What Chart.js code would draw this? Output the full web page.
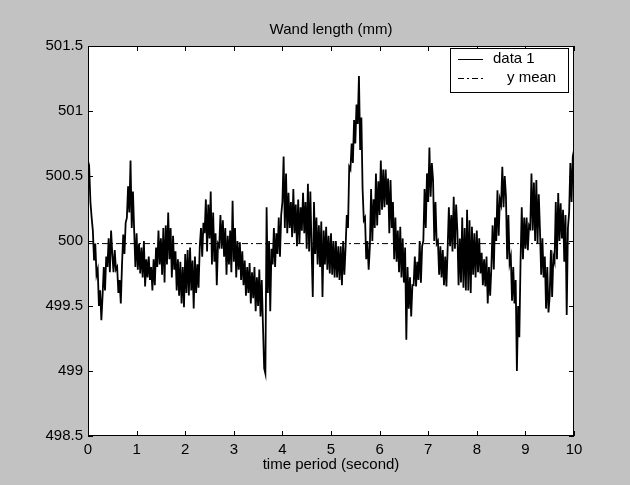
<!DOCTYPE html>
<html>
<head>
<meta charset="utf-8">
<script src="https://cdn.jsdelivr.net/npm/chart.js@4/dist/chart.umd.min.js"></script>
<style>
  html, body { margin: 0; padding: 0; background: #c2c2c2; }
  #wrap { width: 630px; height: 485px; }
</style>
</head>
<body>
<div id="wrap"><canvas id="wandChart" width="630" height="485"></canvas></div>
<script>
// Wand length samples (mm), one value every sampleStep seconds
const sampleStep = 0.025;
const wandLength = [
  // 0 - 1 s
  500.52, 500.56, 500.30, 500.18,  500.08, 499.85, 499.98, 499.74,  499.78, 499.50, 499.62, 499.39,
  499.58, 499.80, 499.62, 499.88,  499.80, 500.02, 499.76, 500.08,  499.90, 499.76, 499.93, 499.78,
  499.80, 499.60, 499.70, 499.52,  499.82, 500.05, 499.90, 500.14,  500.18, 500.42, 500.22, 500.62,
  500.10, 500.38, 500.08, 499.80,
  // 1 - 2 s
  500.06, 499.78, 499.98, 499.75,  499.95, 499.72, 500.00, 499.65,  499.86, 499.72, 499.88, 499.70,
  499.80, 499.62, 499.86, 499.66,  499.95, 499.80, 500.08, 499.82,  500.02, 499.74, 500.10, 499.68,
  500.12, 499.82, 500.22, 499.86,  500.10, 499.72, 500.04, 499.78,  499.92, 499.62, 499.86, 499.58,
  499.84, 499.52, 499.80, 499.49,
  // 2 - 3 s
  499.90, 499.60, 499.93, 499.58,  499.95, 499.62, 499.85, 499.48,  499.88, 499.60, 499.82, 499.64,
  499.96, 500.10, 499.88, 500.14,  500.06, 500.32, 499.92, 500.28,  500.02, 500.38, 499.82, 500.22,
  499.84, 500.06, 499.66, 499.98,  499.96, 500.20, 499.94, 500.16,  499.88, 500.10, 499.74, 500.04,
  499.82, 500.08, 499.76, 500.31,
  // 3 - 4 s
  499.84, 500.10, 499.72, 500.00,  499.78, 499.99, 499.70, 499.92,  499.66, 499.85, 499.58, 499.80,
  499.60, 499.83, 499.52, 499.76,  499.56, 499.80, 499.46, 499.72,  499.50, 499.78, 499.42, 499.70,
  499.35, 499.02, 498.98, 500.26,  499.60, 500.00, 499.46, 499.94,  499.82, 500.10, 499.80, 500.06,
  499.90, 500.18, 499.88, 500.20,
  // 4 - 5 s
  500.30, 500.65, 500.10, 500.52,  500.06, 500.37, 500.10, 500.30,  500.03, 500.40, 500.06, 500.28,
  499.96, 500.32, 499.98, 500.26,  500.08, 500.37, 500.06, 500.30,  499.94, 500.44, 499.92, 500.38,
  499.95, 499.57, 500.30, 499.90,  500.18, 499.82, 500.12, 499.80,  500.15, 499.57, 500.08, 499.82,
  500.11, 499.78, 500.04, 499.75,
  // 5 - 6 s
  500.06, 499.74, 500.00, 499.72,  500.00, 499.72, 499.96, 499.70,  499.96, 499.66, 500.00, 499.74,
  499.95, 500.20, 500.10, 500.57,  500.55, 500.75, 500.60, 500.93,  500.75, 501.05, 500.90, 501.27,
  500.70, 500.95, 500.40, 500.16,  500.18, 499.86, 500.00, 499.78,  499.96, 500.40, 500.00, 500.32,
  500.10, 500.52, 500.12, 500.46,
  // 6 - 7 s
  500.20, 500.62, 500.24, 500.55,  500.26, 500.55, 500.28, 500.48,  500.06, 500.47, 500.10, 500.30,
  499.86, 500.18, 499.84, 500.08,  499.76, 500.11, 499.72, 500.02,  499.68, 499.95, 499.24, 499.80,
  499.48, 499.72, 499.42, 499.66,  499.66, 499.88, 499.65, 499.84,  499.70, 500.00, 499.68, 499.96,
  500.00, 500.40, 500.10, 500.52,
  // 7 - 8 s
  500.30, 500.72, 500.34, 500.60,  500.47, 500.00, 500.30, 499.98,  500.00, 499.74, 499.96, 499.72,
  499.93, 499.66, 499.88, 499.65,  499.94, 500.26, 499.96, 500.20,  499.92, 500.34, 499.94, 500.28,
  500.08, 499.66, 500.02, 499.68,  500.18, 499.64, 500.10, 499.62,  500.24, 499.62, 500.16, 499.60,
  500.11, 499.74, 500.06, 499.72,
  // 8 - 9 s
  500.08, 499.76, 500.02, 499.75,  499.91, 499.66, 499.86, 499.65,  499.88, 499.52, 499.80, 499.58,
  499.80, 500.12, 499.78, 500.18,  500.00, 500.39, 500.04, 500.32,  500.28, 500.57, 500.26, 500.50,
  500.34, 499.86, 500.20, 499.83,  499.88, 499.54, 499.80, 499.52,  499.70, 499.00, 499.50, 499.26,
  499.84, 500.26, 499.86, 500.18,
  // 9 - 10 s
  499.94, 500.18, 499.93, 500.12,  500.10, 500.52, 500.08, 500.45,  500.00, 500.47, 499.98, 500.36,
  500.08, 499.74, 500.02, 499.72,  499.88, 499.48, 499.80, 499.45,  499.58, 499.93, 499.57, 499.88,
  499.84, 500.30, 499.86, 500.37,  500.00, 500.29, 500.02, 500.24,  499.84, 500.20, 499.43, 500.10,
  500.22, 500.60, 500.30, 500.65,
  500.70
];
const yMean = 499.98;
const xTicks = [0, 1, 2, 3, 4, 5, 6, 7, 8, 9, 10];
const yTicks = [498.5, 499, 499.5, 500, 500.5, 501, 501.5];

const labelFont = { family: 'Arial, "Liberation Sans", sans-serif', size: 15 };

const dataPoints = wandLength.map((v, i) => ({ x: +(i * sampleStep).toFixed(3), y: v }));
const meanPoints = [{ x: xTicks[0], y: yMean }, { x: xTicks[xTicks.length - 1], y: yMean }];

// grey figure, white axes, box with inward ticks, legend inside the axes
const matlabFrame = {
  id: 'matlabFrame',
  beforeDraw(chart) {
    const { ctx, chartArea: a } = chart;
    ctx.save();
    ctx.fillStyle = '#c2c2c2';
    ctx.fillRect(0, 0, chart.width, chart.height);
    ctx.fillStyle = '#ffffff';
    ctx.fillRect(a.left, a.top, a.right - a.left, a.bottom - a.top);
    ctx.restore();
  },
  afterDatasetsDraw(chart) {
    const { ctx, chartArea: a, scales } = chart;
    ctx.save();
    ctx.strokeStyle = '#000';
    ctx.lineWidth = 1;
    ctx.strokeRect(a.left + 0.5, a.top + 0.5, a.right - a.left - 1, a.bottom - a.top - 1);
    ctx.beginPath();
    const tl = 5;
    xTicks.forEach(v => {
      const px = Math.round(scales.x.getPixelForValue(v)) + 0.5;
      ctx.moveTo(px, a.bottom); ctx.lineTo(px, a.bottom - tl);
      ctx.moveTo(px, a.top); ctx.lineTo(px, a.top + tl);
    });
    yTicks.forEach(v => {
      const py = Math.round(scales.y.getPixelForValue(v)) + 0.5;
      ctx.moveTo(a.left, py); ctx.lineTo(a.left + tl, py);
      ctx.moveTo(a.right, py); ctx.lineTo(a.right - tl, py);
    });
    ctx.stroke();

    // legend box
    const bx = 450, by = 48, bw = 118, bh = 44;
    ctx.fillStyle = '#fff';
    ctx.fillRect(bx, by, bw, bh);
    ctx.strokeRect(bx + 0.5, by + 0.5, bw, bh);
    const ds = chart.data.datasets;
    ctx.font = '15px Arial, "Liberation Sans", sans-serif';
    ctx.fillStyle = '#000';
    ctx.textBaseline = 'middle';
    // row 1
    ctx.beginPath();
    ctx.moveTo(458, 59.5); ctx.lineTo(483, 59.5);
    ctx.stroke();
    ctx.fillText(ds[0].label, 493, 59);
    // row 2
    ctx.setLineDash(ds[1].borderDash);
    ctx.beginPath();
    ctx.moveTo(458, 78.5); ctx.lineTo(483, 78.5);
    ctx.stroke();
    ctx.setLineDash([]);
    ctx.fillText(ds[1].label, 507, 78);
    ctx.restore();
  }
};

new Chart(document.getElementById('wandChart'), {
  type: 'line',
  data: {
    datasets: [
      {
        label: 'data 1',
        data: dataPoints,
        borderColor: '#000',
        borderWidth: 1.8,
        pointRadius: 0,
        tension: 0
      },
      {
        label: 'y mean',
        data: meanPoints,
        borderColor: '#000',
        borderWidth: 1,
        borderDash: [6, 3, 2, 3],
        pointRadius: 0
      }
    ]
  },
  options: {
    responsive: false,
    animation: false,
    devicePixelRatio: 1,
    layout: { padding: { left: 0, right: 56, top: 0, bottom: 0 } },
    plugins: {
      legend: { display: false },
      tooltip: { enabled: false },
      title: { display: false }
    },
    scales: {
      x: {
        type: 'linear',
        position: 'bottom',
        min: 0,
        max: 10,
        afterBuildTicks: s => { s.ticks = xTicks.map(v => ({ value: v })); },
        afterFit: s => { s.height = 49; },
        grid: { display: false, drawTicks: false },
        border: { display: false },
        ticks: { color: '#000', font: labelFont, padding: 5, maxRotation: 0, autoSkip: false,
                 callback: v => String(v) },
        title: { display: true, text: 'time period (second)', color: '#000', font: labelFont,
                 padding: { top: 0, bottom: 11 } }
      },
      xTop: {
        type: 'linear',
        position: 'top',
        min: 0,
        max: 10,
        afterFit: s => { s.height = 46; },
        grid: { display: false, drawTicks: false },
        border: { display: false },
        ticks: { display: false },
        title: { display: true, text: 'Wand length (mm)', color: '#000', font: labelFont,
                 padding: { top: 21, bottom: 0 } }
      },
      y: {
        type: 'linear',
        min: 498.5,
        max: 501.5,
        afterBuildTicks: s => { s.ticks = yTicks.map(v => ({ value: v })); },
        afterFit: s => { s.width = 88; },
        grid: { display: false, drawTicks: false },
        border: { display: false },
        ticks: { color: '#000', font: labelFont, padding: 5, autoSkip: false,
                 callback: v => String(v) }
      }
    }
  },
  plugins: [matlabFrame]
});
</script>
</body>
</html>
